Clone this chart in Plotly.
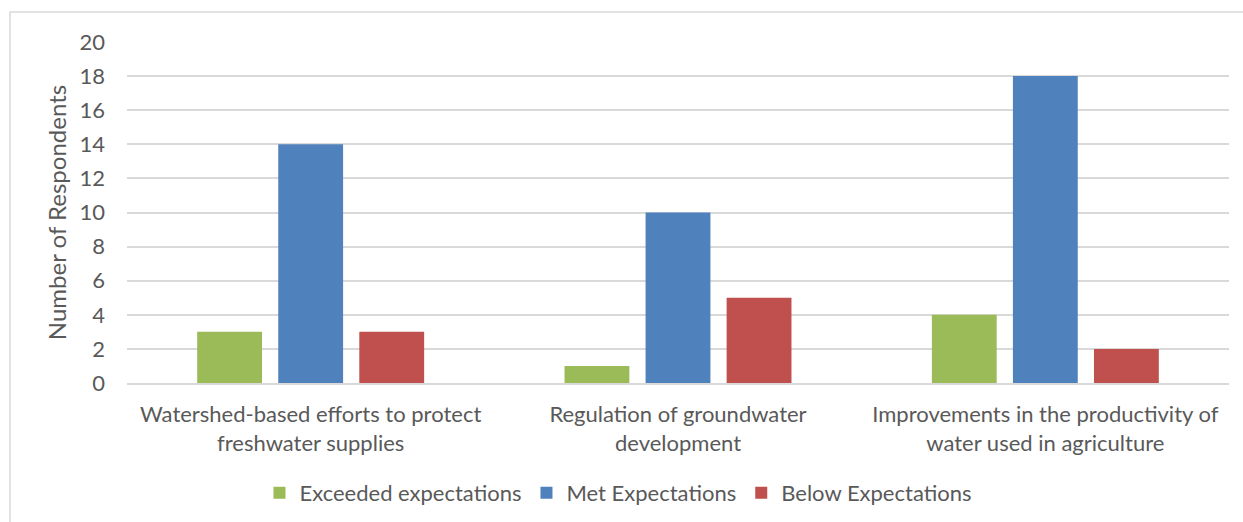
import plotly.graph_objects as go

# Survey results: respondents per outcome for each policy area
categories = [
    "Watershed-based efforts to protect<br>freshwater supplies",
    "Regulation of groundwater<br>development",
    "Improvements in the productivity of<br>water used in agriculture",
]
exceeded = [3, 1, 4]
met = [14, 10, 18]
below = [3, 5, 2]
series_names = ["Exceeded expectations", "Met Expectations", "Below Expectations"]
y_ticks = [0, 2, 4, 6, 8, 10, 12, 14, 16, 18, 20]

colors = ["#9BBB59", "#4F81BD", "#C0504D"]
font_family = "Lato, 'Open Sans', sans-serif"
text_color = "#595959"
grid_color = "#D9D9D9"

W, H = 1243, 522
ml, mr, mt, mb = 127, 14, 42, 139
pw, ph = W - ml - mr, H - mt - mb

fig = go.Figure()
for name, vals, col in zip(series_names, [exceeded, met, below], colors):
    fig.add_trace(go.Bar(
        x=categories, y=vals, name=name,
        marker=dict(color=col, line=dict(width=0)),
    ))

# chart-area outline (extends past the right and bottom edges)
def px_x(p):
    return (p - ml) / pw

def px_y(p):
    return (H - mb - p) / ph

fig.add_shape(
    type="rect", xref="paper", yref="paper",
    x0=px_x(10), x1=px_x(W + 5), y0=px_y(H + 5), y1=px_y(12),
    line=dict(color=grid_color, width=1.5), fillcolor="rgba(0,0,0,0)",
    layer="below",
)

fig.update_layout(
    width=W, height=H,
    margin=dict(l=ml, r=mr, t=mt, b=mb, autoexpand=False),
    paper_bgcolor="white", plot_bgcolor="white",
    barmode="group", bargap=0.338, bargroupgap=0.2,
    font=dict(family=font_family, color=text_color, size=22),
    showlegend=True,
    legend=dict(
        orientation="h", x=0.446, xanchor="center", y=px_y(493), yanchor="middle",
        font=dict(size=22, color=text_color), itemwidth=30,
        traceorder="normal",
    ),
    xaxis=dict(
        automargin=False,
        showgrid=False, showline=True, linecolor=grid_color, linewidth=1.5,
        ticks="", tickfont=dict(size=22, color=text_color),
        ticklabelstandoff=11,
    ),
    yaxis=dict(
        automargin=False,
        range=[0, 20], tickvals=y_ticks, showgrid=True, gridcolor=grid_color,
        gridwidth=1.5, zeroline=False, showline=False,
        tickfont=dict(size=22, color=text_color), ticklabelstandoff=21,
        title=dict(text="Number of Respondents", font=dict(size=24, color=text_color), standoff=6),
    ),
)

fig.write_html("out.html")
